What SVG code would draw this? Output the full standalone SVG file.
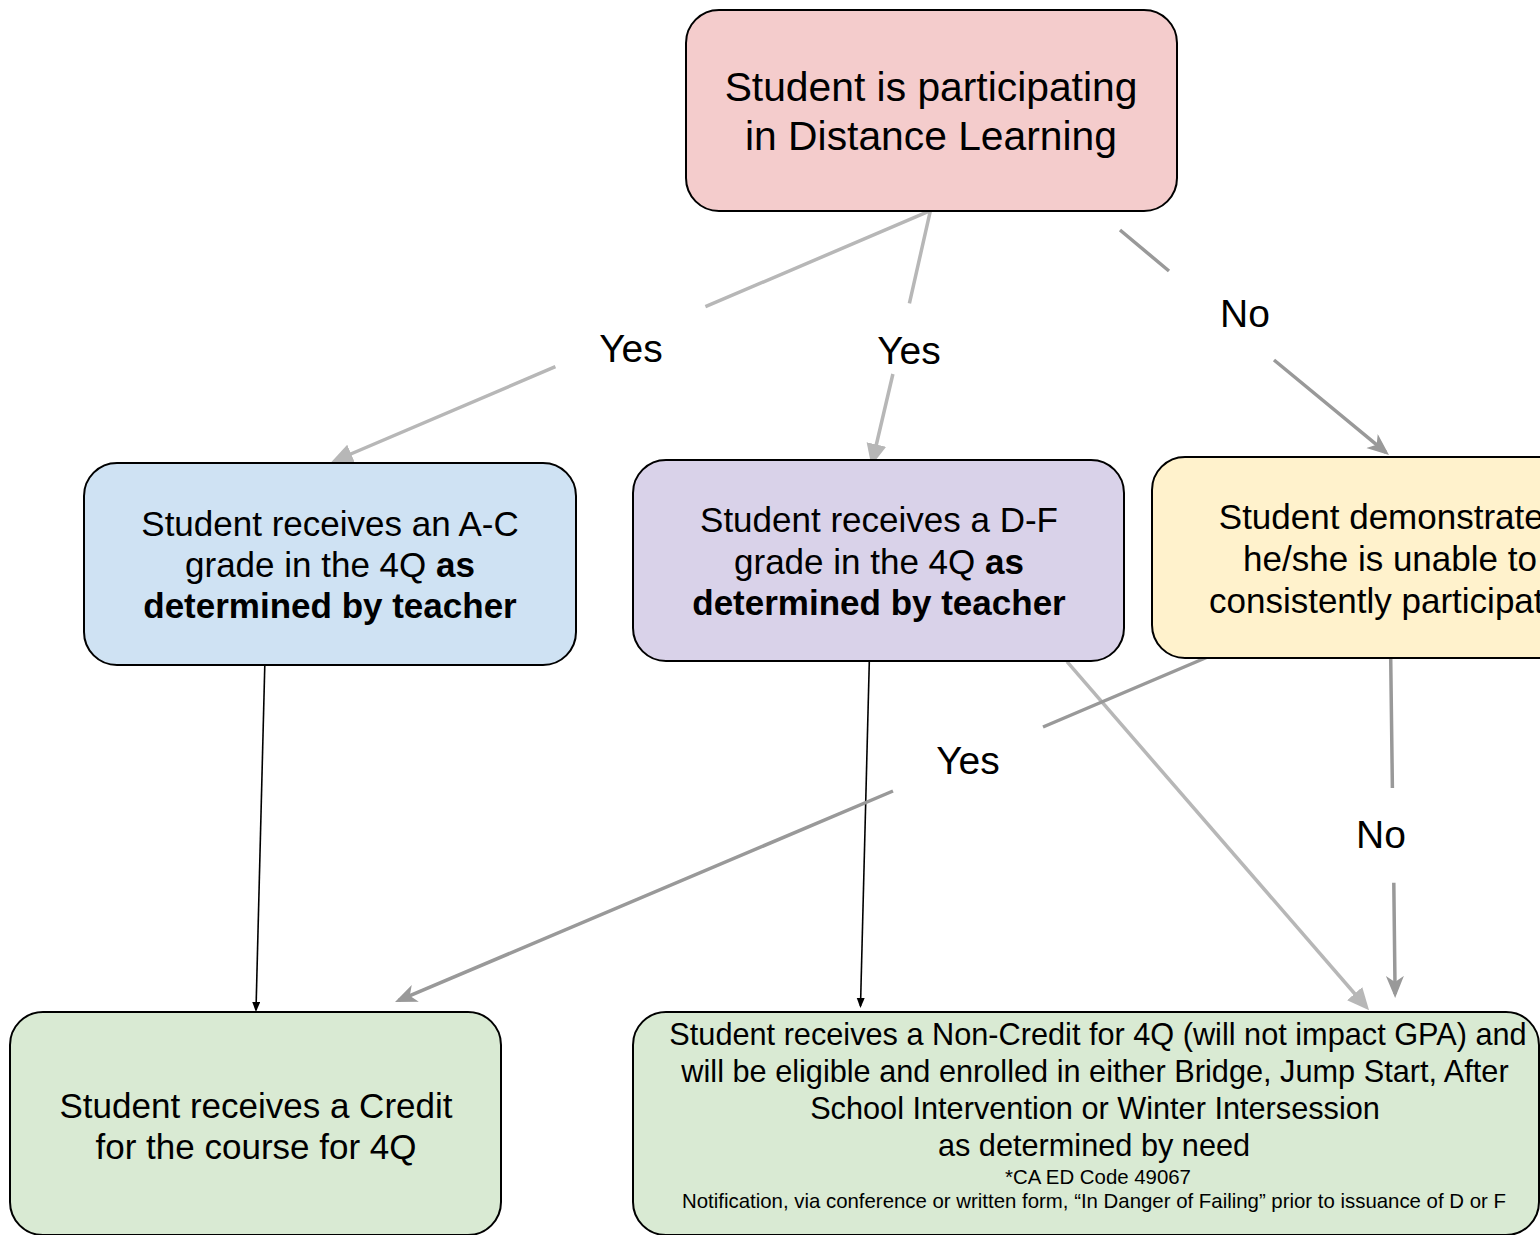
<svg xmlns="http://www.w3.org/2000/svg" width="1540" height="1235" viewBox="0 0 1540 1235">
<style>
.box{stroke:#000;stroke-width:2}
.t{font-family:"Liberation Sans",Arial,sans-serif;fill:#000;text-anchor:middle}
.big{font-size:40.8px}
.mid{font-size:35px}
.sm{font-size:30.7px}
.xs{font-size:20.4px}
.lbl{font-size:39px}
.b{font-weight:bold}
.lg{fill:none;stroke:#b7b7b7;stroke-width:3.5}
.dg{fill:none;stroke:#999999;stroke-width:3.5}
.bk{fill:none;stroke:#000;stroke-width:1.6}
</style>
<defs>
<marker id="aLight" markerUnits="userSpaceOnUse" markerWidth="24" markerHeight="22" refX="17" refY="10" orient="auto">
<path d="M0,0 L22,10 L0,20 z" fill="#b7b7b7"/>
</marker>
<marker id="aDark" markerUnits="userSpaceOnUse" markerWidth="24" markerHeight="20" refX="18" refY="9" orient="auto">
<path d="M0,0 L22,9 L0,18 L6,9 z" fill="#999999"/>
</marker>
<marker id="aBlack" markerUnits="userSpaceOnUse" markerWidth="12" markerHeight="10" refX="8" refY="4" orient="auto">
<path d="M0,0 L10,4 L0,8 z" fill="#000"/>
</marker>
</defs>
<rect width="1540" height="1235" fill="#fff"/>

<g id="connectors">
<path class="lg" d="M930.4,210.7 L705.4,306.7 M555.4,366.7 L335.5,460.5" marker-end="url(#aLight)"/>
<path class="lg" d="M930.4,210.7 L909.4,303.3 M892.9,374 L872.5,461" marker-end="url(#aLight)"/>
<path class="dg" d="M1120,230 L1169,271 M1274,360 L1385.9,452.4" marker-end="url(#aDark)"/>
<path class="bk" d="M264.8,665 L256,1010" marker-end="url(#aBlack)"/>
<path class="bk" d="M869.3,661.7 L860.5,1006" marker-end="url(#aBlack)"/>
<path class="lg" d="M1067,661.7 L1365.8,1006.5" marker-end="url(#aLight)"/>
<path class="dg" d="M1217,653 L1043,727 M893,791 L398.7,1000.4" marker-end="url(#aDark)"/>
<path class="dg" d="M1390.7,658 L1392.4,788 M1393.8,882.7 L1395.1,994" marker-end="url(#aDark)"/>
<text class="t lbl" x="631" y="362">Yes</text>
<text class="t lbl" x="909" y="364">Yes</text>
<text class="t lbl" x="1245" y="327">No</text>
<text class="t lbl" x="968" y="774">Yes</text>
<text class="t lbl" x="1381" y="848">No</text>
</g>

<g id="start">
<rect class="box" x="686" y="10" width="491" height="201" rx="33" fill="#f4cccc"/>
<text class="t big" x="931" y="101">Student is participating</text>
<text class="t big" x="931" y="150">in Distance Learning</text>
</g>

<g id="gradeAC">
<rect class="box" x="84" y="463" width="492" height="202" rx="33" fill="#cfe2f3"/>
<text class="t mid" x="330" y="536">Student receives an A-C</text>
<text class="t mid" x="330" y="577">grade in the 4Q <tspan class="b">as</tspan></text>
<text class="t mid b" x="330" y="618">determined by teacher</text>
</g>

<g id="gradeDF">
<rect class="box" x="633" y="460" width="491" height="201" rx="33" fill="#d9d2e9"/>
<text class="t mid" x="879" y="532">Student receives a D-F</text>
<text class="t mid" x="879" y="574">grade in the 4Q <tspan class="b">as</tspan></text>
<text class="t mid b" x="879" y="615">determined by teacher</text>
</g>

<g id="unable">
<rect class="box" x="1152" y="457" width="491" height="201" rx="33" fill="#fff2cc"/>
<text class="t mid" x="1390" y="529">Student demonstrates</text>
<text class="t mid" x="1390" y="571">he/she is unable to</text>
<text class="t mid" x="1386" y="613">consistently participate</text>
</g>

<g id="credit">
<rect class="box" x="10" y="1012" width="491" height="223" rx="33" fill="#d9ead3"/>
<text class="t mid" x="256" y="1118">Student receives a Credit</text>
<text class="t mid" x="256" y="1159">for the course for 4Q</text>
</g>

<g id="noncredit">
<rect class="box" x="633" y="1012" width="906" height="223" rx="33" fill="#d9ead3"/>
<text class="t sm" x="1098" y="1045">Student receives a Non-Credit for 4Q (will not impact GPA) and</text>
<text class="t sm" x="1095" y="1082">will be eligible and enrolled in either Bridge, Jump Start, After</text>
<text class="t sm" x="1095" y="1119">School Intervention or Winter Intersession</text>
<text class="t sm" x="1094" y="1156">as determined by need</text>
<text class="t xs" x="1098" y="1184">*CA ED Code 49067</text>
<text class="t xs" x="1094" y="1208">Notification, via conference or written form, “In Danger of Failing” prior to issuance of D or F</text>
</g>
</svg>
